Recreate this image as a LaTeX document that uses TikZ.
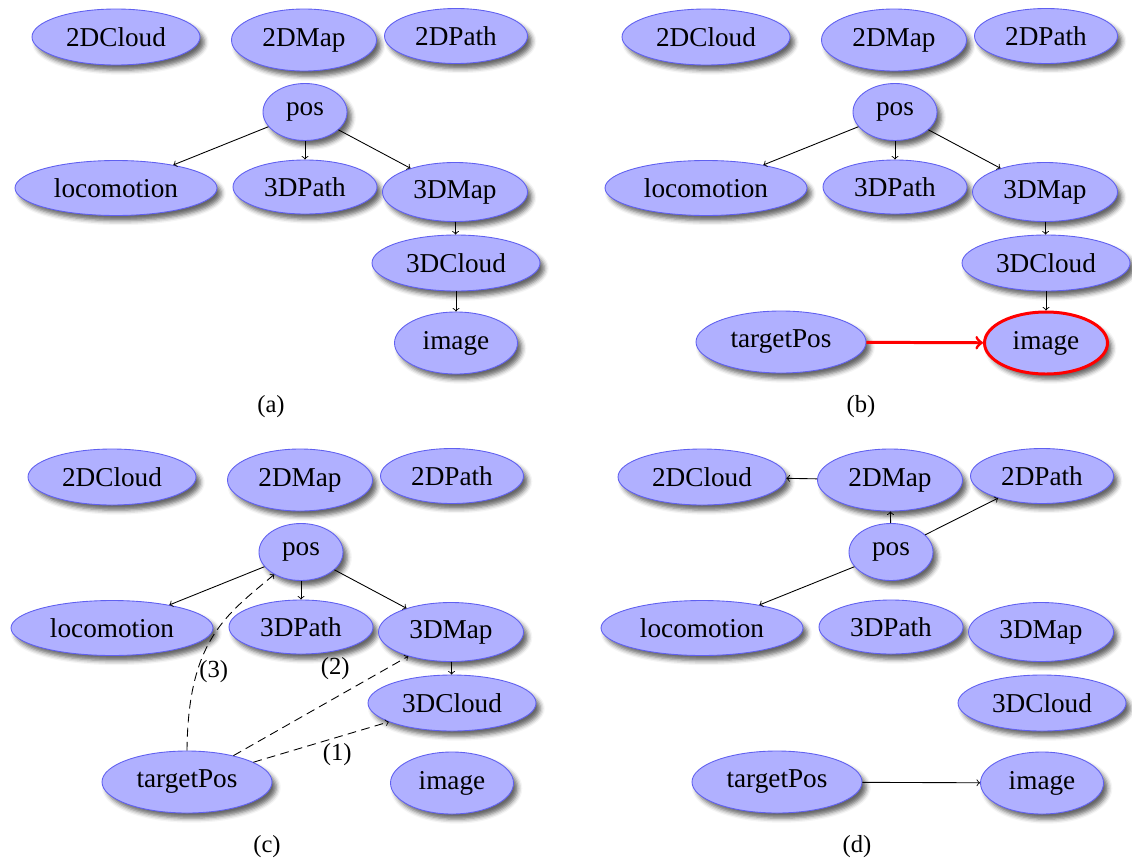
\documentclass[tikz,border=0pt]{standalone}
\usepackage{fontspec}
\setmainfont{Liberation Serif}
\usetikzlibrary{shapes.geometric,shadows.blur}

\definecolor{blobfill}{RGB}{176,176,255}
\definecolor{blobline}{RGB}{96,96,240}

% one picture unit
\def\pxu{0.02cm}

% the state nodes that every panel shares
\newcommand{\stategraph}[1][]{%
  \node[blob, dims={168}{56}] (cloud2d)    at (116,-37)  {2DCloud};
  \node[blob, dims={145}{62}] (map2d)      at (304,-40)  {2DMap};
  \node[blob, dims={143}{55}] (path2d)     at (456,-36)  {2DPath};
  \node[blob, dims={84}{57}]  (pos)        at (305,-112) {pos};
  \node[blob, dims={202}{55}] (locomotion) at (116,-188) {locomotion};
  \node[blob, dims={144}{54}] (path3d)     at (305,-187) {3DPath};
  \node[blob, dims={145}{59}] (map3d)      at (455,-192) {3DMap};
  \node[blob, dims={168}{56}] (cloud3d)    at (456,-263) {3DCloud};
  \node[blob, dims={123}{62}, #1] (image)  at (456,-343) {image};
}

\begin{document}
\begin{tikzpicture}[
    x=\pxu, y=\pxu,
    blob/.style={ellipse, draw=blobline, fill=blobfill, line width=0.5pt, inner sep=0pt,
      blur shadow={shadow xshift=2.5pt, shadow yshift=-3pt, shadow blur radius=2.5pt, shadow opacity=60},
      font=\fontsize{15.5}{18}\selectfont},
    dims/.style 2 args={minimum width=#1*\pxu, minimum height=#2*\pxu},
    link/.style={->, line width=0.5pt},
    hint/.style={->, dash pattern=on 5pt off 3pt, line width=0.5pt},
    caption/.style={font=\fontsize{14}{17}\selectfont}
]

  \useasboundingbox (0,0) rectangle (1132,-862);

  % (a) pos drives the 3D chain
  \begin{scope}
    \stategraph
    \draw[link] (pos) -- (locomotion);
    \draw[link] (pos) -- (path3d);
    \draw[link] (pos) -- (map3d);
    \draw[link] (map3d) -- (cloud3d);
    \draw[link] (cloud3d) -- (image);
    \node[caption] (capa) at (271,-407) {(a)};
  \end{scope}

  % (b) new input reaches image
  \begin{scope}[shift={(590,0)}]
    \stategraph[draw=red, line width=1.7pt]
    \node[blob, dims={170}{62}] (target) at (191,-342) {targetPos};
    \draw[link] (pos) -- (locomotion);
    \draw[link] (pos) -- (path3d);
    \draw[link] (pos) -- (map3d);
    \draw[link] (map3d) -- (cloud3d);
    \draw[link] (cloud3d) -- (image);
    \draw[link, red, line width=1.7pt] (target) -- (image);
    \node[caption] (capb) at (271,-407) {(b)};
  \end{scope}

  % (c) candidate links, tried in order
  \begin{scope}[shift={(-4,-440)}]
    \stategraph
    \node[blob, dims={170}{62}] (target) at (191,-342) {targetPos};
    \draw[link] (pos) -- (locomotion);
    \draw[link] (pos) -- (path3d);
    \draw[link] (pos) -- (map3d);
    \draw[link] (map3d) -- (cloud3d);
    \draw[hint] (target) -- node[caption, pos=0.62, below] (lab1) {(1)} (cloud3d);
    \draw[hint] (target) -- node[caption, pos=0.7, above left] (lab2) {(2)} (map3d);
    \draw[hint] (target.north) .. controls (192,-200) and (230,-175) ..
      node[caption, pos=0.3, right, inner sep=1pt] (lab3) {(3)} (pos.220);
    \node[caption] (capc) at (271,-407) {(c)};
  \end{scope}

  % (d) rewired graph
  \begin{scope}[shift={(586,-440)}]
    \stategraph
    \node[blob, dims={170}{62}] (target) at (191,-342) {targetPos};
    \draw[link] (map2d) -- (cloud2d);
    \draw[link] (pos) -- (map2d);
    \draw[link] (pos) -- (path2d);
    \draw[link] (pos) -- (locomotion);
    \draw[link] (target) -- (image);
    \node[caption] (capd) at (271,-407) {(d)};
  \end{scope}

\end{tikzpicture}
\end{document}
